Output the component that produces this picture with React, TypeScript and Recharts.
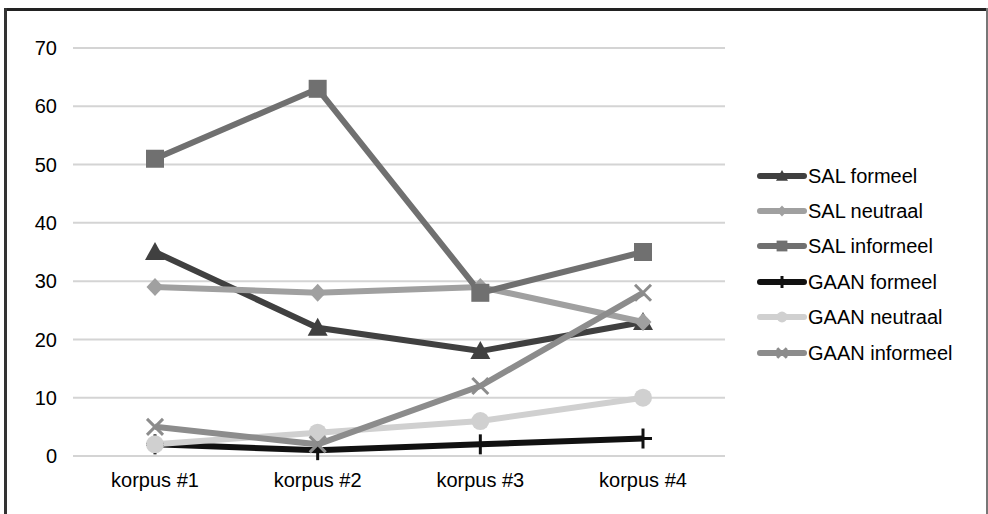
import React from "react";
import { LineChart, Line, XAxis, YAxis, CartesianGrid } from "recharts";

const categories = ["korpus #1", "korpus #2", "korpus #3", "korpus #4"];
const salFormeel = [35, 22, 18, 23];
const salNeutraal = [29, 28, 29, 23];
const salInformeel = [51, 63, 28, 35];
const gaanFormeel = [2, 1, 2, 3];
const gaanNeutraal = [2, 4, 6, 10];
const gaanInformeel = [5, 2, 12, 28];
const yTicks = [0, 10, 20, 30, 40, 50, 60, 70];

const series = [
  { key: "salFormeel", name: "SAL formeel", values: salFormeel, color: "#404040", marker: "triangle" },
  { key: "salNeutraal", name: "SAL neutraal", values: salNeutraal, color: "#a0a0a0", marker: "diamond" },
  { key: "salInformeel", name: "SAL informeel", values: salInformeel, color: "#707070", marker: "square" },
  { key: "gaanFormeel", name: "GAAN formeel", values: gaanFormeel, color: "#111111", marker: "plus" },
  { key: "gaanNeutraal", name: "GAAN neutraal", values: gaanNeutraal, color: "#d0d0d0", marker: "circle" },
  { key: "gaanInformeel", name: "GAAN informeel", values: gaanInformeel, color: "#8c8c8c", marker: "x" },
];

const data = categories.map((c, i) => {
  const row: any = { name: c };
  series.forEach((s) => (row[s.key] = s.values[i]));
  return row;
});

function Marker({ type, cx, cy, color, scale = 1 }: any) {
  const s = scale;
  switch (type) {
    case "triangle":
      return <polygon points={`${cx},${cy - 10 * s} ${cx + 10 * s},${cy + 8 * s} ${cx - 10 * s},${cy + 8 * s}`} fill={color} />;
    case "diamond":
      return <polygon points={`${cx},${cy - 9 * s} ${cx + 8.5 * s},${cy} ${cx},${cy + 9 * s} ${cx - 8.5 * s},${cy}`} fill={color} />;
    case "square":
      return <rect x={cx - 9 * s} y={cy - 9 * s} width={18 * s} height={18 * s} fill={color} />;
    case "circle":
      return <circle cx={cx} cy={cy} r={9 * s} fill={color} />;
    case "plus":
      return (
        <g stroke={color} strokeWidth={3}>
          <line x1={cx - 9 * s} y1={cy} x2={cx + 9 * s} y2={cy} />
          <line x1={cx} y1={cy - 10 * s} x2={cx} y2={cy + 10 * s} />
        </g>
      );
    case "x":
      return (
        <g stroke={color} strokeWidth={3}>
          <line x1={cx - 8 * s} y1={cy - 8 * s} x2={cx + 8 * s} y2={cy + 8 * s} />
          <line x1={cx - 8 * s} y1={cy + 8 * s} x2={cx + 8 * s} y2={cy - 8 * s} />
        </g>
      );
    default:
      return null;
  }
}

function ChartLegend() {
  return (
    <div style={{ position: "absolute", left: 755, top: 158 }}>
      {series.map((s) => (
        <div key={s.key} style={{ display: "flex", alignItems: "center", height: 35.4 }}>
          <svg width={53} height={20}>
            <line x1={5} y1={10} x2={49} y2={10} stroke={s.color} strokeWidth={6} strokeLinecap="round" />
            <Marker type={s.marker} cx={27} cy={10} color={s.color} scale={0.6} />
          </svg>
          <span style={{ fontSize: 20, color: "#000", lineHeight: "20px" }}>{s.name}</span>
        </div>
      ))}
    </div>
  );
}

export default function App() {
  return (
    <div
      style={{
        position: "absolute",
        left: 0,
        top: 0,
        width: 988,
        height: 514,
        background: "#fff",
        fontFamily: "'Liberation Sans', Arial, sans-serif",
      }}
    >
      <div style={{ position: "absolute", left: 4, top: 8, width: 984, height: 3, background: "#222" }} />
      <div style={{ position: "absolute", left: 4, top: 8, width: 3, height: 506, background: "#333" }} />
      <div style={{ position: "absolute", left: 986, top: 8, width: 2, height: 506, background: "#777" }} />
      <div style={{ position: "absolute", left: 0, top: 0 }}>
        <LineChart
          width={988}
          height={514}
          data={data}
          margin={{ top: 48, right: 263, left: 0, bottom: 28 }}
        >
          <CartesianGrid vertical={false} stroke="#d4d4d4" strokeWidth={2} />
          <XAxis
            dataKey="name"
            padding={{ left: 82, right: 82 }}
            axisLine={{ stroke: "#d4d4d4", strokeWidth: 2 }}
            tickLine={false}
            tickMargin={11}
            tick={{ fontSize: 20, fill: "#000" }}
          />
          <YAxis
            width={73}
            domain={[0, 70]}
            ticks={yTicks}
            axisLine={false}
            tickLine={false}
            tickMargin={10}
            tick={{ fontSize: 20, fill: "#000" }}
          />
          {series.map((s) => (
            <Line
              key={s.key}
              dataKey={s.key}
              name={s.name}
              stroke={s.color}
              strokeWidth={6}
              isAnimationActive={false}
              dot={(p: any) => <Marker key={`${s.key}-${p.index}`} type={s.marker} cx={p.cx} cy={p.cy} color={s.color} />}
              activeDot={false}
            />
          ))}
        </LineChart>
      </div>
      <ChartLegend />
    </div>
  );
}
